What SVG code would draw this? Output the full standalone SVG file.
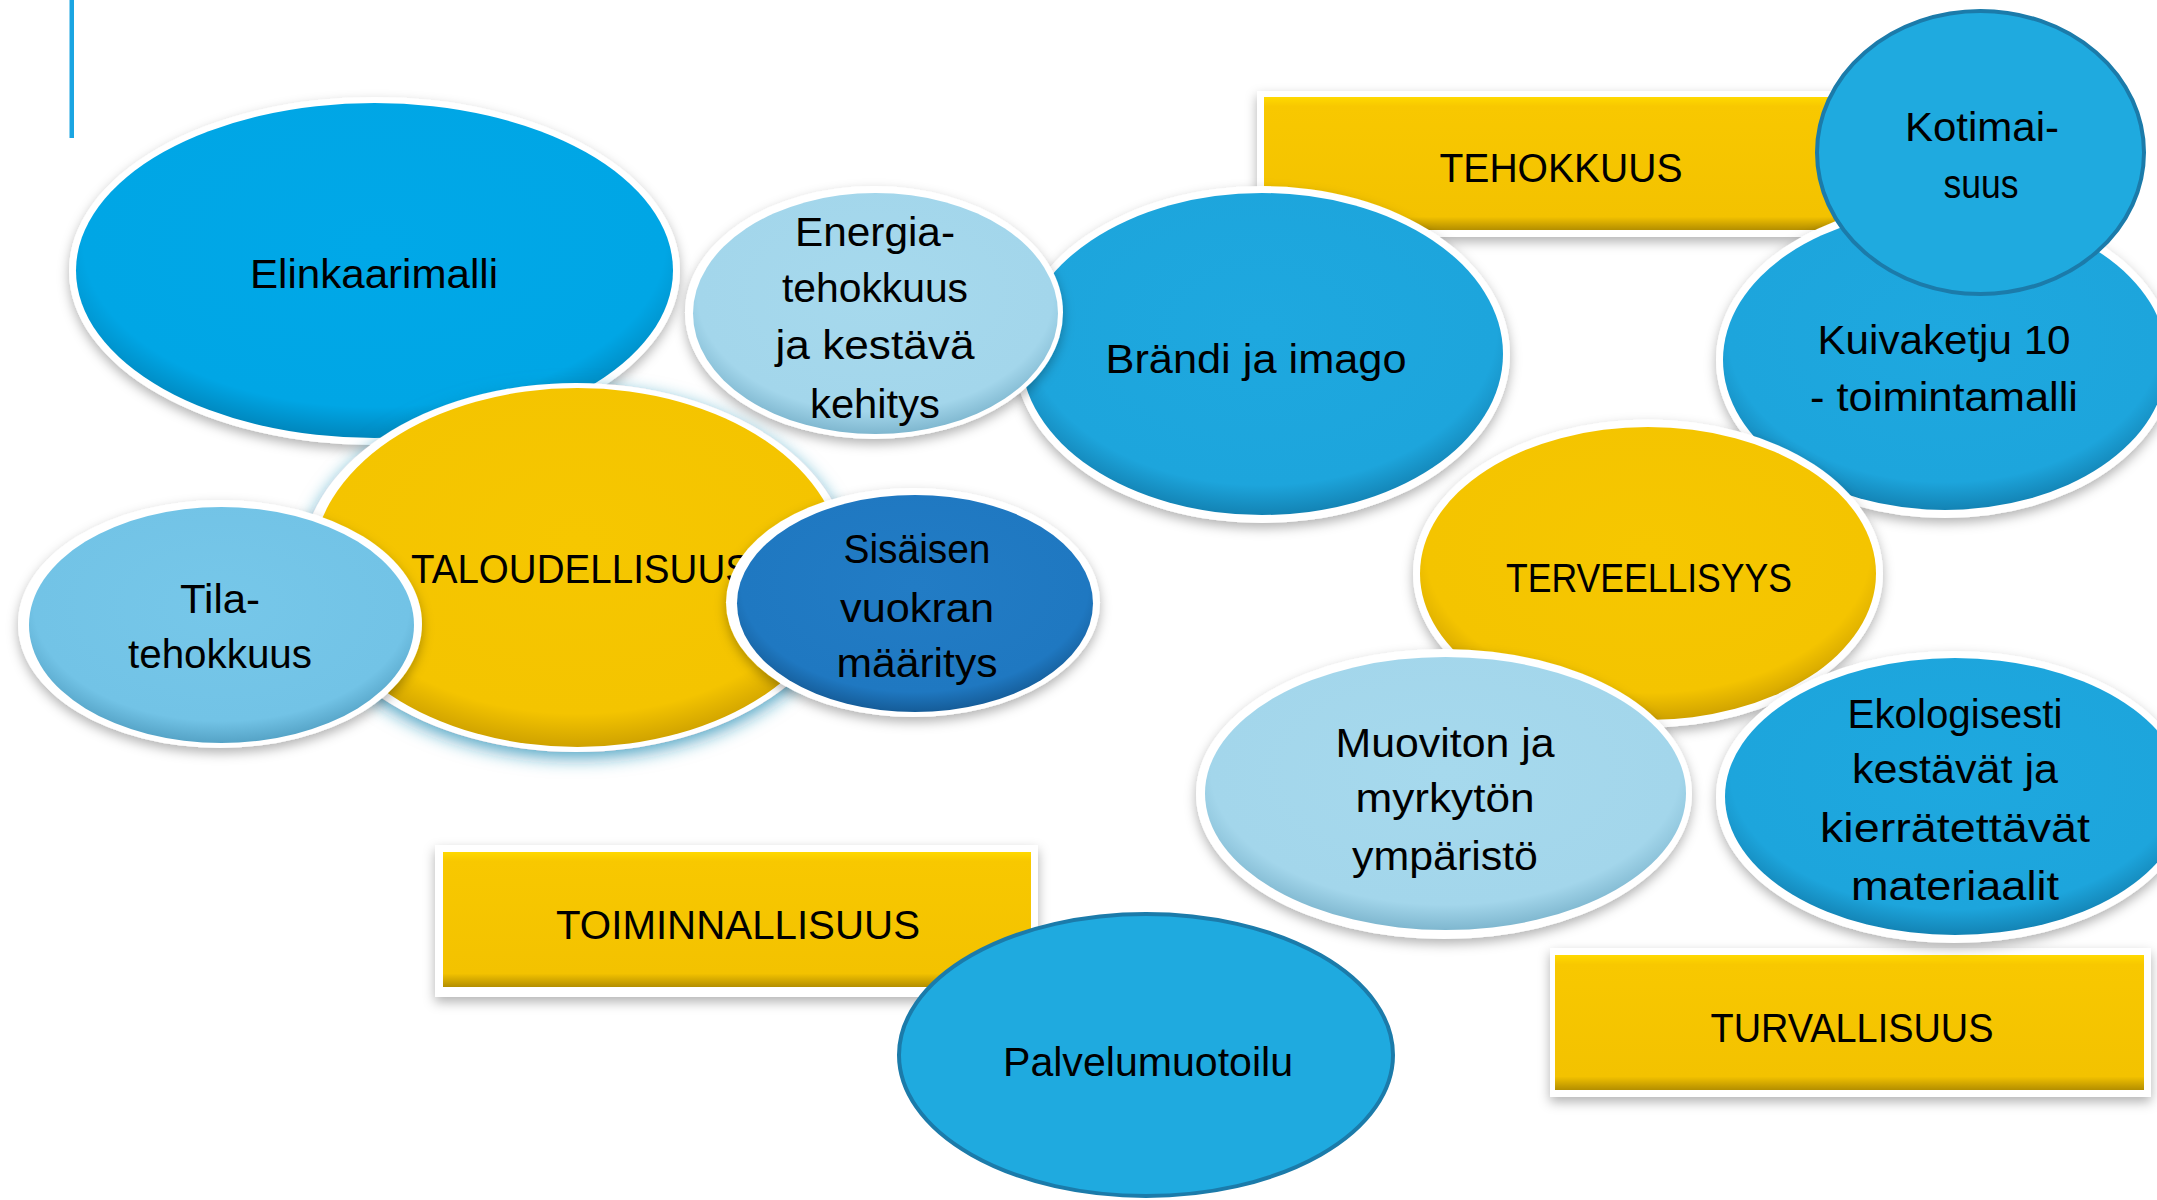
<svg xmlns="http://www.w3.org/2000/svg" width="2157" height="1200" viewBox="0 0 2157 1200">
<style>
text{font-family:"Liberation Sans","DejaVu Sans",sans-serif;font-size:40px;fill:#000;text-anchor:middle}
.ring{fill:#fff;filter:url(#sh)}
.frame{fill:#fff;filter:url(#sh)}
</style>
<defs>
<filter id="sh" x="-10%" y="-10%" width="120%" height="125%">
<feDropShadow dx="0" dy="5" stdDeviation="6" flood-color="#000" flood-opacity="0.3"/>
</filter>
<filter id="glow" x="-15%" y="-15%" width="130%" height="135%">
<feDropShadow dx="0" dy="6" stdDeviation="9" flood-color="#1C86B0" flood-opacity="0.75"/>
</filter>
<radialGradient id="gBright" cx="0.5" cy="0.42" r="0.58">
<stop offset="0" stop-color="#00A8E8"/><stop offset="0.84" stop-color="#00A6E5"/><stop offset="1" stop-color="#0086BC"/>
</radialGradient>
<radialGradient id="gMid" cx="0.5" cy="0.42" r="0.58">
<stop offset="0" stop-color="#1EA8DF"/><stop offset="0.84" stop-color="#1DA5DC"/><stop offset="1" stop-color="#1383B4"/>
</radialGradient>
<radialGradient id="gLight" cx="0.5" cy="0.42" r="0.58">
<stop offset="0" stop-color="#A6D9ED"/><stop offset="0.84" stop-color="#A3D6EB"/><stop offset="1" stop-color="#7FB7CF"/>
</radialGradient>
<radialGradient id="gTila" cx="0.5" cy="0.42" r="0.58">
<stop offset="0" stop-color="#76C7E9"/><stop offset="0.84" stop-color="#72C3E6"/><stop offset="1" stop-color="#55A3C6"/>
</radialGradient>
<radialGradient id="gDark" cx="0.5" cy="0.42" r="0.58">
<stop offset="0" stop-color="#227CC5"/><stop offset="0.84" stop-color="#1F78C1"/><stop offset="1" stop-color="#155C98"/>
</radialGradient>
<radialGradient id="gYel" cx="0.5" cy="0.42" r="0.58">
<stop offset="0" stop-color="#F6C700"/><stop offset="0.84" stop-color="#F4C400"/><stop offset="1" stop-color="#CFA200"/>
</radialGradient>
<linearGradient id="gBar" x1="0" y1="0" x2="0" y2="1">
<stop offset="0" stop-color="#FFD900"/><stop offset="0.07" stop-color="#F8C800"/><stop offset="0.9" stop-color="#F3C200"/><stop offset="1" stop-color="#B38E00"/>
</linearGradient>
</defs>

<rect id="accent" x="69.5" y="0" width="4.5" height="138" fill="#1AA5E2"/>

<g id="connectors"></g>

<g id="tehokkuus">
<rect class="frame" x="1257" y="91" width="606" height="146"/>
<rect x="1264" y="97" width="592" height="133" fill="url(#gBar)"/>
<text x="1561" y="182" textLength="243" lengthAdjust="spacingAndGlyphs">TEHOKKUUS</text>
</g>

<g id="toiminnallisuus">
<rect class="frame" x="435" y="845" width="603" height="152"/>
<rect x="443" y="852" width="588" height="135" fill="url(#gBar)"/>
<text x="738" y="939" textLength="364" lengthAdjust="spacingAndGlyphs">TOIMINNALLISUUS</text>
</g>

<g id="turvallisuus">
<rect class="frame" x="1550" y="948" width="601" height="149"/>
<rect x="1555" y="955" width="589" height="135" fill="url(#gBar)"/>
<text x="1852" y="1042" textLength="283" lengthAdjust="spacingAndGlyphs">TURVALLISUUS</text>
</g>

<g id="elinkaarimalli">
<ellipse class="ring" cx="374.5" cy="271" rx="305.5" ry="174"/>
<ellipse cx="374.5" cy="270.5" rx="298.5" ry="167.5" fill="url(#gBright)"/>
<text x="374" y="288" textLength="248" lengthAdjust="spacingAndGlyphs">Elinkaarimalli</text>
</g>

<g id="taloudellisuus">
<ellipse cx="576" cy="567.5" rx="275" ry="184.5" fill="#fff" filter="url(#glow)"/>
<ellipse cx="577.5" cy="567.5" rx="265.5" ry="179.5" fill="url(#gYel)"/>
<text x="411" y="583" textLength="340" lengthAdjust="spacingAndGlyphs" style="text-anchor:start">TALOUDELLISUUS</text>
</g>

<g id="tilatehokkuus">
<ellipse class="ring" cx="220" cy="624" rx="202" ry="124"/>
<ellipse cx="221.5" cy="625" rx="192.5" ry="118" fill="url(#gTila)"/>
<text x="220" y="613" textLength="80" lengthAdjust="spacingAndGlyphs">Tila-</text>
<text x="220" y="668" textLength="184" lengthAdjust="spacingAndGlyphs">tehokkuus</text>
</g>

<g id="brandi">
<ellipse class="ring" cx="1262" cy="354.5" rx="248" ry="168.5"/>
<ellipse cx="1262" cy="354" rx="241" ry="161" fill="url(#gMid)"/>
<text x="1256" y="373" textLength="301" lengthAdjust="spacingAndGlyphs">Brändi ja imago</text>
</g>

<g id="energiatehokkuus">
<ellipse class="ring" cx="874" cy="312.5" rx="189" ry="126.5"/>
<ellipse cx="875.5" cy="313.5" rx="182.5" ry="120.5" fill="url(#gLight)"/>
<text x="875" y="246" textLength="160" lengthAdjust="spacingAndGlyphs">Energia-</text>
<text x="875" y="302" textLength="186" lengthAdjust="spacingAndGlyphs">tehokkuus</text>
<text x="875" y="359" textLength="199" lengthAdjust="spacingAndGlyphs">ja kestävä</text>
<text x="875" y="418" textLength="130" lengthAdjust="spacingAndGlyphs">kehitys</text>
</g>

<g id="sisaisenvuokran">
<ellipse class="ring" cx="913" cy="602.5" rx="187" ry="114.5"/>
<ellipse cx="915" cy="603.5" rx="178" ry="108.5" fill="url(#gDark)"/>
<text x="917" y="563" textLength="147" lengthAdjust="spacingAndGlyphs">Sisäisen</text>
<text x="917" y="622" textLength="154" lengthAdjust="spacingAndGlyphs">vuokran</text>
<text x="917" y="677" textLength="161" lengthAdjust="spacingAndGlyphs">määritys</text>
</g>

<g id="kuivaketju">
<ellipse class="ring" cx="1945" cy="360" rx="229" ry="158"/>
<ellipse cx="1945" cy="360" rx="222" ry="150" fill="url(#gMid)"/>
<text x="1944" y="354" textLength="253" lengthAdjust="spacingAndGlyphs">Kuivaketju 10</text>
<text x="1944" y="411" textLength="268" lengthAdjust="spacingAndGlyphs">- toimintamalli</text>
</g>

<g id="kotimaisuus">
<ellipse cx="1980.5" cy="152.5" rx="163.5" ry="141.5" fill="#1FAADF" stroke="#1B7BAA" stroke-width="4"/>
<text x="1982" y="141" textLength="154" lengthAdjust="spacingAndGlyphs">Kotimai-</text>
<text x="1981" y="198" textLength="75" lengthAdjust="spacingAndGlyphs">suus</text>
</g>

<g id="terveellisyys">
<ellipse class="ring" cx="1648" cy="573.5" rx="235" ry="154"/>
<ellipse cx="1648" cy="573.5" rx="228" ry="146.5" fill="url(#gYel)"/>
<text x="1649" y="592" textLength="286" lengthAdjust="spacingAndGlyphs">TERVEELLISYYS</text>
</g>

<g id="muoviton">
<ellipse class="ring" cx="1444" cy="794" rx="248" ry="145"/>
<ellipse cx="1445.5" cy="793.5" rx="240.5" ry="136.5" fill="url(#gLight)"/>
<text x="1445" y="757" textLength="219" lengthAdjust="spacingAndGlyphs">Muoviton ja</text>
<text x="1445" y="812" textLength="179" lengthAdjust="spacingAndGlyphs">myrkytön</text>
<text x="1445" y="870" textLength="186" lengthAdjust="spacingAndGlyphs">ympäristö</text>
</g>

<g id="ekologisesti">
<ellipse class="ring" cx="1954" cy="797" rx="238" ry="146"/>
<ellipse cx="1955" cy="796.5" rx="230" ry="138.5" fill="url(#gMid)"/>
<text x="1955" y="728" textLength="215" lengthAdjust="spacingAndGlyphs">Ekologisesti</text>
<text x="1955" y="783" textLength="206" lengthAdjust="spacingAndGlyphs">kestävät ja</text>
<text x="1955" y="842" textLength="270" lengthAdjust="spacingAndGlyphs">kierrätettävät</text>
<text x="1955" y="900" textLength="208" lengthAdjust="spacingAndGlyphs">materiaalit</text>
</g>

<g id="palvelumuotoilu">
<ellipse cx="1146" cy="1055" rx="247" ry="141" fill="#1FAADF" stroke="#1B7BAA" stroke-width="4"/>
<text x="1148" y="1076" textLength="290" lengthAdjust="spacingAndGlyphs">Palvelumuotoilu</text>
</g>
</svg>
